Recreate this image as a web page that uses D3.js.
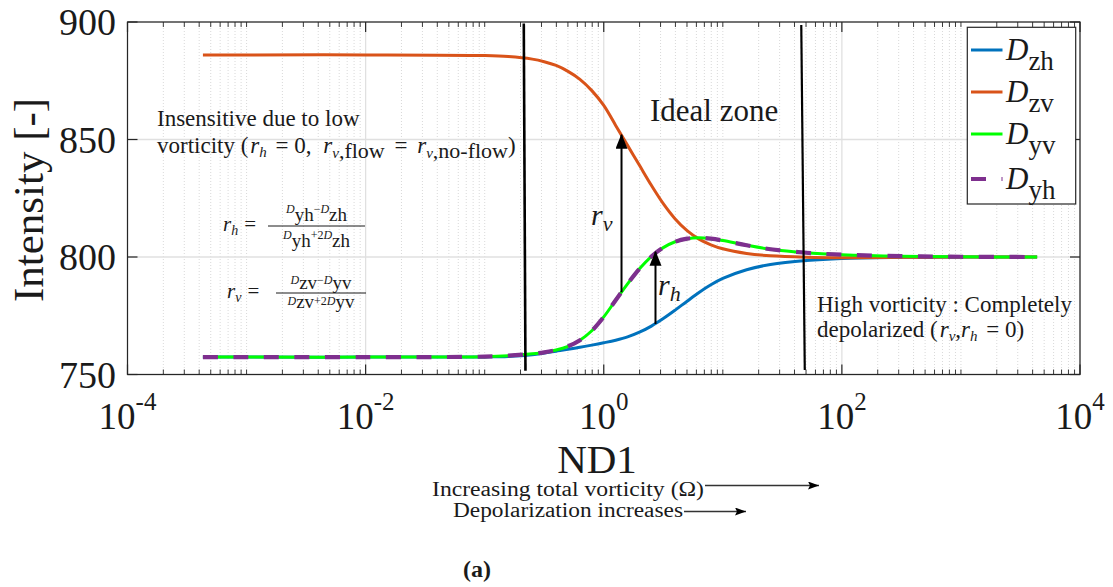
<!DOCTYPE html>
<html>
<head>
<meta charset="utf-8">
<script src="https://cdn.jsdelivr.net/npm/d3@7"></script>
<style>
  html, body { margin: 0; padding: 0; background: #fff; }
  svg { display: block; }
  text { font-family: "Liberation Serif", "Times New Roman", serif; fill: #1a1a1a; }
</style>
</head>
<body>
<svg id="chart" width="1113" height="587"></svg>
<script>
// ND1 sample points (log-spaced) and the four intensity curves
const nd1 = [4.3e-4, 1e-3, 1e-2, 0.1, 0.158, 0.251, 0.3162, 0.398, 0.5012, 0.631, 0.794, 1, 1.259, 1.585, 1.995, 2.512, 3.162, 3.981, 5.012, 6.31, 7.943, 10, 15.85, 25.12, 50.12, 100, 316.2, 1000, 4365];
const dzh = [757.4, 757.4, 757.4, 757.5, 757.7, 758.4, 759.1, 759.9, 760.7, 761.6, 762.5, 763.5, 764.6, 766.0, 768.0, 770.6, 773.8, 777.4, 781.2, 784.9, 788.2, 790.9, 794.6, 796.8, 798.5, 799.4, 799.85, 800.0, 800.0];
const dzv = [886.0, 886.0, 886.0, 885.7, 885.3, 884.2, 883.1, 881.5, 879.0, 875.6, 870.8, 864.5, 856.0, 847.5, 839.0, 830.5, 822.7, 816.2, 811.2, 807.6, 805.2, 803.5, 801.5, 800.5, 799.9, 799.7, 799.85, 800.0, 800.0];
const dyv = [757.4, 757.4, 757.4, 757.6, 758.0, 758.8, 759.4, 760.4, 762.0, 764.6, 768.6, 774.5, 781.6, 788.6, 795.0, 800.2, 804.0, 806.5, 807.8, 808.2, 807.8, 807.0, 805.0, 803.3, 801.8, 801.0, 800.35, 800.1, 800.0];
const dyh = [757.4, 757.4, 757.4, 757.6, 758.0, 758.8, 759.4, 760.4, 762.0, 764.6, 768.6, 774.5, 781.6, 788.6, 795.0, 800.2, 804.0, 806.5, 807.8, 808.2, 807.8, 807.0, 805.0, 803.3, 801.8, 801.0, 800.35, 800.1, 800.0];

const seriesNames = ["zh", "zv", "yv", "yh"];
const seriesColors = ["#0072BD", "#D95319", "#00FF00", "#7E2F8E"];

// axis ticks
const yTicks = [750, 800, 850, 900];
const xTickExponents = [-4, -2, 0, 2, 4];

// zone boundaries (ND1 at top and bottom of each drawn line)
const zoneLines = [
  { ndTop: 0.213, ndBottom: 0.220, vTop: 899.4, vBottom: 751.6, w: 2.6 },
  { ndTop: 45.6, ndBottom: 48.8, vTop: 898.7, vBottom: 751.9, w: 2.2 }
];
// r_v and r_h arrows: ND1 position, start and end intensity
const rvArrow = { nd: 1.41, from: 785.0, to: 852.0 };
const rhArrow = { nd: 2.72, from: 771.5, to: 802.2 };

const svg = d3.select("#chart");
const L = 127.5, R = 1080, T = 22, B = 374.5;
const x = d3.scaleLog().domain([1e-4, 1e4]).range([L, R]);
const y = d3.scaleLinear().domain([750, 900]).range([B, T]);
const axisColor = "#262626";

// arrowheads
const defs = svg.append("defs");
defs.append("marker").attr("id", "headBig").attr("markerUnits", "userSpaceOnUse")
  .attr("markerWidth", 16).attr("markerHeight", 14).attr("refX", 14).attr("refY", 6)
  .attr("orient", "auto")
  .append("path").attr("d", "M0,0 L15,6 L0,12 Z").attr("fill", "#000");
defs.append("marker").attr("id", "headSmall").attr("markerUnits", "userSpaceOnUse")
  .attr("markerWidth", 12).attr("markerHeight", 10).attr("refX", 11).attr("refY", 4)
  .attr("orient", "auto")
  .append("path").attr("d", "M0,0 L11,4 L0,8 L2,4 Z").attr("fill", "#000");

// grid
const grid = svg.append("g");
const minorX = [];
for (let e = -4; e < 4; e++) {
  for (let k = 1; k <= 9; k++) {
    if (k === 1 && e % 2 === 0) continue;
    minorX.push(k * Math.pow(10, e));
  }
}
grid.selectAll("line.minor").data(minorX).join("line")
  .attr("x1", d => x(d)).attr("x2", d => x(d)).attr("y1", T).attr("y2", B)
  .attr("stroke", "#cfcfcf").attr("stroke-width", 0.8).attr("stroke-dasharray", "1,2");
grid.selectAll("line.majx").data(xTickExponents).join("line")
  .attr("x1", d => x(Math.pow(10, d))).attr("x2", d => x(Math.pow(10, d))).attr("y1", T).attr("y2", B)
  .attr("stroke", "#e0e0e0").attr("stroke-width", 1.3);
grid.selectAll("line.majy").data(yTicks).join("line")
  .attr("x1", L).attr("x2", R).attr("y1", d => y(d)).attr("y2", d => y(d))
  .attr("stroke", "#e0e0e0").attr("stroke-width", 1.3);

// curves
const line = d3.line().x(d => x(d[0])).y(d => y(d[1])).curve(d3.curveCatmullRom.alpha(0.5));
const plots = svg.append("g").attr("fill", "none").attr("stroke-linecap", "butt");
const allSeries = [dzh, dzv, dyv, dyh];
const widths = [3, 3, 3, 4.2];
const dashes = [null, null, null, "15,15.5"];
allSeries.forEach((vals, i) => {
  plots.append("path")
    .datum(nd1.map((n, j) => [n, vals[j]]))
    .attr("d", line)
    .attr("stroke", seriesColors[i])
    .attr("stroke-width", widths[i])
    .attr("stroke-dasharray", dashes[i]);
});

// zone boundary lines
svg.append("g").selectAll("line").data(zoneLines).join("line")
  .attr("x1", d => x(d.ndTop)).attr("y1", d => y(d.vTop))
  .attr("x2", d => x(d.ndBottom)).attr("y2", d => y(d.vBottom))
  .attr("stroke", "#000").attr("stroke-width", d => d.w);

// r_v / r_h arrows
[rvArrow, rhArrow].forEach(a => {
  svg.append("line")
    .attr("x1", x(a.nd)).attr("x2", x(a.nd))
    .attr("y1", y(a.from)).attr("y2", y(a.to))
    .attr("stroke", "#000").attr("stroke-width", 2)
    .attr("marker-end", "url(#headBig)");
});

// frame and ticks
const ax = svg.append("g").attr("stroke", axisColor).attr("stroke-width", 1.2);
ax.append("rect").attr("x", L).attr("y", T).attr("width", R - L).attr("height", B - T).attr("fill", "none");
xTickExponents.forEach(e => {
  const px = x(Math.pow(10, e));
  ax.append("line").attr("x1", px).attr("x2", px).attr("y1", B).attr("y2", B - 10);
  ax.append("line").attr("x1", px).attr("x2", px).attr("y1", T).attr("y2", T + 10);
});
minorX.forEach(v => {
  const px = x(v);
  ax.append("line").attr("x1", px).attr("x2", px).attr("y1", B).attr("y2", B - 5).attr("stroke-width", 0.9);
  ax.append("line").attr("x1", px).attr("x2", px).attr("y1", T).attr("y2", T + 5).attr("stroke-width", 0.9);
});
yTicks.forEach(v => {
  ax.append("line").attr("x1", L).attr("x2", L + 10).attr("y1", y(v)).attr("y2", y(v));
  ax.append("line").attr("x1", R).attr("x2", R - 10).attr("y1", y(v)).attr("y2", y(v));
});

// tick labels
svg.append("g").selectAll("text").data(yTicks).join("text")
  .attr("x", 116).attr("y", d => y(d) + 13)
  .attr("text-anchor", "end").attr("font-size", 38).text(d => d);
const xl = svg.append("g").selectAll("text").data(xTickExponents).join("text")
  .attr("x", d => x(Math.pow(10, d))).attr("y", 428.5)
  .attr("text-anchor", "middle").attr("font-size", 37);
xl.append("tspan").text("10");
xl.append("tspan").attr("font-size", 25).attr("dy", -19).text(d => d < 0 ? "-" + (-d) : String(d));

// axis titles
svg.append("text").attr("x", 597).attr("y", 473).attr("text-anchor", "middle")
  .attr("font-size", 41).text("ND1");
svg.append("text").attr("transform", "translate(43,200) rotate(-90)")
  .attr("text-anchor", "middle").attr("font-size", 43).text("Intensity [-]");

// rich text helper: parts with italic flag, size and vertical shift
function rich(parent, px, py, parts, base, anchor) {
  const t = parent.append("text").attr("x", px).attr("y", py)
    .attr("font-size", base).attr("text-anchor", anchor || "start");
  let cur = 0;
  parts.forEach(p => {
    const s = p.s || 0;
    const ts = t.append("tspan").attr("dy", s - cur)
      .attr("font-size", p.f || base)
      .attr("font-style", p.i ? "italic" : "normal")
      .text(p.t);
    if (p.dx) ts.attr("dx", p.dx);
    cur = s;
  });
  return t;
}

const ann = svg.append("g");
ann.append("text").attr("x", 157).attr("y", 126).attr("font-size", 23).text("Insensitive due to low");
rich(ann, 157, 153, [
  { t: "vorticity (" },
  { t: "r", i: true, dx: 2 }, { t: "h", i: true, f: 15, s: 4 },
  { t: " = 0, ", dx: 3 },
  { t: "r", i: true, dx: 6 }, { t: "v", i: true, f: 15, s: 5 }, { t: ",flow", f: 22, s: 5 },
  { t: " = ", dx: 4 },
  { t: "r", i: true, dx: 4 }, { t: "v", i: true, f: 15, s: 5 }, { t: ",no-flow", f: 22, s: 5 },
  { t: ")", s: 0 }
], 23);

ann.append("text").attr("x", 650).attr("y", 121).attr("font-size", 31).text("Ideal zone");

ann.append("text").attr("x", 817).attr("y", 312).attr("font-size", 23).text("High vorticity : Completely");
rich(ann, 817, 337, [
  { t: "depolarized (" },
  { t: "r", i: true, dx: 2 }, { t: "v", i: true, f: 15, s: 4 },
  { t: ",", s: 0 },
  { t: "r", i: true }, { t: "h", i: true, f: 15, s: 4 },
  { t: " = 0)", s: 0, dx: 3 }
], 23);

// ratio definitions
function fraction(cx, barY, x0, x1, num, den, numDy, denDy) {
  ann.append("line").attr("x1", x0).attr("x2", x1).attr("y1", barY).attr("y2", barY)
    .attr("stroke", "#1a1a1a").attr("stroke-width", 1);
  rich(ann, cx, barY - numDy, num, 19, "middle");
  rich(ann, cx, barY + denDy, den, 19, "middle");
}
rich(ann, 223, 231, [{ t: "r", i: true, f: 21 }, { t: "h", i: true, f: 14, s: 4 }, { t: "=", f: 21, s: 0, dx: 6 }], 21);
fraction(316.5, 226, 268, 365,
  [{ t: "D", i: true, f: 12, s: -8 }, { t: "yh", s: 0 }, { t: "−", f: 12, s: -8 }, { t: "D", i: true, f: 12, s: -8 }, { t: "zh", s: 0 }],
  [{ t: "D", i: true, f: 12, s: -8 }, { t: "yh", s: 0 }, { t: "+2", f: 12, s: -8 }, { t: "D", i: true, f: 12, s: -8 }, { t: "zh", s: 0 }],
  5, 21);
rich(ann, 227, 298, [{ t: "r", i: true, f: 21 }, { t: "v", i: true, f: 14, s: 4 }, { t: "=", f: 21, s: 0, dx: 6 }], 21);
fraction(321, 293, 276, 366,
  [{ t: "D", i: true, f: 12, s: -5 }, { t: "zv", s: 0 }, { t: "−", f: 12, s: -5 }, { t: "D", i: true, f: 12, s: -5 }, { t: "yv", s: 0 }],
  [{ t: "D", i: true, f: 12, s: -3 }, { t: "zv", s: 0 }, { t: "+2", f: 12, s: -3 }, { t: "D", i: true, f: 12, s: -3 }, { t: "yv", s: 0 }],
  4, 15);

// arrow labels
rich(ann, 591, 225, [{ t: "r", i: true }, { t: "v", i: true, f: 22, s: 6 }], 30);
rich(ann, 658, 295, [{ t: "r", i: true }, { t: "h", i: true, f: 22, s: 6 }], 30);

// legend
const lg = svg.append("g");
lg.append("rect").attr("x", 967.3).attr("y", 27.3).attr("width", 108.4).attr("height", 176.7)
  .attr("fill", "#fff").attr("stroke", "#262626").attr("stroke-width", 1.2);
const legendY = [50, 92, 134, 179];
seriesNames.forEach((nm, i) => {
  lg.append("line").attr("x1", 971).attr("x2", 1002.5).attr("y1", legendY[i]).attr("y2", legendY[i])
    .attr("stroke", seriesColors[i]).attr("stroke-width", i === 3 ? 4.2 : 3)
    .attr("stroke-dasharray", dashes[i]);
  rich(lg, 1006, legendY[i] + 10, [{ t: "D", i: true }, { t: nm, f: 27, s: 10 }], 31);
});

// notes under the axis
const notes = svg.append("g");
notes.append("text").attr("x", 432).attr("y", 496).attr("font-size", 20)
  .attr("textLength", 272).attr("lengthAdjust", "spacingAndGlyphs").text("Increasing total vorticity (Ω)");
notes.append("line").attr("x1", 705).attr("x2", 819).attr("y1", 485.5).attr("y2", 485.5)
  .attr("stroke", "#333").attr("stroke-width", 1.4).attr("marker-end", "url(#headSmall)");
notes.append("text").attr("x", 453).attr("y", 517).attr("font-size", 20)
  .attr("textLength", 230).attr("lengthAdjust", "spacingAndGlyphs").text("Depolarization increases");
notes.append("line").attr("x1", 684).attr("x2", 746).attr("y1", 511.5).attr("y2", 511.5)
  .attr("stroke", "#333").attr("stroke-width", 1.4).attr("marker-end", "url(#headSmall)");
notes.append("text").attr("x", 477).attr("y", 577).attr("text-anchor", "middle")
  .attr("font-size", 24).attr("font-weight", "bold").text("(a)");
</script>
</body>
</html>
